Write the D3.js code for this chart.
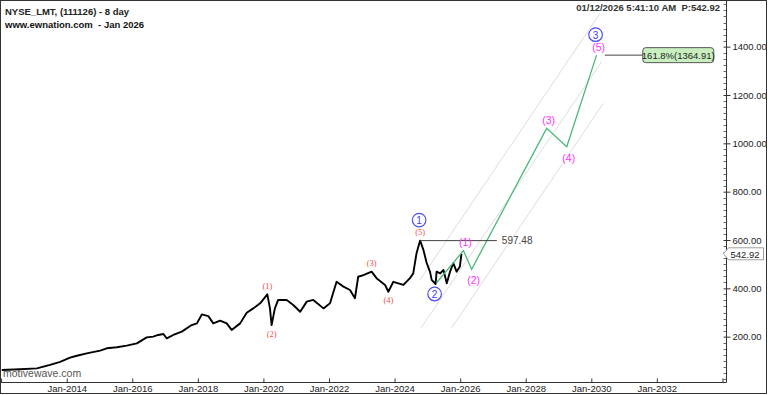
<!DOCTYPE html>
<html>
<head>
<meta charset="utf-8">
<script src="https://cdnjs.cloudflare.com/ajax/libs/d3/7.8.5/d3.min.js"></script>
<style>
  body { margin: 0; background: #fff; }
  svg { display: block; font-family: "Liberation Sans", Arial, sans-serif; }
</style>
</head>
<body>
<svg id="chart"></svg>
<script>
// price history (8 day bars), decimal year / adjusted price
const priceYears = [2012.02, 2012.58, 2013.09, 2013.29, 2013.49, 2013.80, 2014.10, 2014.31, 2014.61,
  2015.02, 2015.22, 2015.53, 2015.83, 2016.14, 2016.44, 2016.64, 2016.79, 2016.95, 2017.05, 2017.25,
  2017.51, 2017.81, 2017.97, 2018.12, 2018.32, 2018.47, 2018.68, 2018.88, 2019.03, 2019.29, 2019.49,
  2019.69, 2019.90, 2020.12, 2020.20, 2020.25, 2020.35, 2020.45, 2020.71, 2020.91, 2021.12, 2021.32,
  2021.52, 2021.83, 2022.03, 2022.23, 2022.44, 2022.64, 2022.79, 2022.89, 2023.05, 2023.30, 2023.45,
  2023.71, 2023.81, 2023.96, 2024.27, 2024.47, 2024.57, 2024.67, 2024.78, 2024.88, 2024.98, 2025.08,
  2025.13, 2025.25, 2025.28, 2025.39, 2025.49, 2025.59, 2025.69, 2025.79, 2025.89, 2025.99, 2026.04];
const priceValues = [62, 65, 69, 76, 83, 96, 113, 121, 131,
  142, 152, 156, 163, 172, 197, 200, 207, 211, 193, 207,
  221, 248, 255, 292, 285, 255, 266, 255, 228, 255, 299,
  317, 338, 375, 317, 248, 317, 352, 352, 331, 303, 345,
  352, 317, 338, 427, 407, 393, 359, 448, 455, 469, 442,
  414, 386, 427, 414, 442, 462, 545, 597.48, 559, 505, 468,
  435, 418, 469, 462, 476, 421, 469, 504, 469, 490, 542.92];

// projected wave path
const projYears = [2025.28, 2026.10, 2026.35, 2028.64, 2029.25, 2030.16];
const projValues = [423, 556, 479, 1062, 986, 1364.91];
const projLabels = ["", "(1)", "(2)", "(3)", "(4)", "(5)"];

// minor wave labels on history
const minorYears = [2020.12, 2020.25, 2023.30, 2023.81, 2024.78];
const minorValues = [375, 248, 469, 386, 597.48];
const minorLabels = ["(1)", "(2)", "(3)", "(4)", "(5)"];

// circled intermediate waves
const circleYears = [2024.78, 2025.25, 2030.16];
const circleValues = [597.48, 418, 1364.91];
const circleLabels = ["1", "2", "3"];

// channel lines [startYear, startPrice, endYear, endPrice]
const channelLines = [
  [2024.775, 434.5, 2030.265, 1538],
  [2024.797, 234.6, 2030.317, 1337.8],
  [2025.73, 234.6, 2030.365, 1165.6]
];

const level597 = 597.48, level597Years = [2024.78, 2027.12];
const fibLevel = 1364.91, fibYears = [2030.41, 2031.57], fibText = "161.8%(1364.91)";
const lastPrice = 542.92;

const xTickYears = [2012, 2014, 2016, 2018, 2020, 2022, 2024, 2026, 2028, 2030, 2032, 2034];
const xLabelYears = [2014, 2016, 2018, 2020, 2022, 2024, 2026, 2028, 2030, 2032];
const yTickValues = [200, 400, 600, 800, 1000, 1200, 1400];

const W = 768, H = 395;
const plotRight = 726.5, plotBottom = 382.5;
const toDate = y => new Date(Date.UTC(Math.floor(y), 0, 1) + (y - Math.floor(y)) * 365.25 * 864e5);

const svg = d3.select("#chart").attr("width", W).attr("height", H);
svg.append("rect").attr("width", W).attr("height", H).attr("fill", "#fff");

const x = d3.scaleUtc().domain([toDate(2012), toDate(2034.077)]).range([1.1, 725]);
const y = d3.scaleLinear().domain([0, 1400]).range([385, 46.67]);

svg.append("clipPath").attr("id", "plot").append("rect")
  .attr("x", 0).attr("y", 0).attr("width", plotRight).attr("height", plotBottom);
const plot = svg.append("g").attr("clip-path", "url(#plot)");

// watermark
plot.append("text").attr("x", 3).attr("y", 377).attr("font-size", 10.5).attr("fill", "#555")
  .text("motivewave.com");

// channel
plot.selectAll(".chan").data(channelLines).join("line")
  .attr("x1", d => x(toDate(d[0]))).attr("y1", d => y(d[1]))
  .attr("x2", d => x(toDate(d[2]))).attr("y2", d => y(d[3]))
  .attr("stroke", "#d4d4d4").attr("stroke-width", 0.8);

// price
const line = d3.line().x(d => x(toDate(d[0]))).y(d => y(d[1]));
plot.append("path").datum(priceYears.map((v, i) => [v, priceValues[i]]))
  .attr("d", line).attr("fill", "none").attr("stroke", "#000").attr("stroke-width", 1.9)
  .attr("stroke-linejoin", "round");

// projection
plot.append("path").datum(projYears.map((v, i) => [v, projValues[i]]))
  .attr("d", line).attr("fill", "none").attr("stroke", "#4cb87a").attr("stroke-width", 1.3);

// horizontal levels
plot.append("line")
  .attr("x1", x(toDate(level597Years[0]))).attr("x2", x(toDate(level597Years[1])))
  .attr("y1", y(level597)).attr("y2", y(level597)).attr("stroke", "#444").attr("stroke-width", 1);
plot.append("text").attr("x", x(toDate(level597Years[1])) + 5).attr("y", y(level597))
  .attr("dominant-baseline", "central").attr("font-size", 10).attr("fill", "#444")
  .text(d3.format(".2f")(level597));

plot.append("line")
  .attr("x1", x(toDate(fibYears[0]))).attr("x2", x(toDate(fibYears[1])))
  .attr("y1", y(fibLevel)).attr("y2", y(fibLevel)).attr("stroke", "#444").attr("stroke-width", 1);
const fx = x(toDate(fibYears[1]));
plot.append("rect").attr("x", fx).attr("y", y(fibLevel) - 7.5).attr("width", 71).attr("height", 15)
  .attr("rx", 3).attr("fill", "#c9efc0").attr("stroke", "#555").attr("stroke-width", 1);
plot.append("text").attr("x", fx + 35.5).attr("y", y(fibLevel) + 0.5).attr("text-anchor", "middle")
  .attr("dominant-baseline", "central").attr("font-size", 9.5).attr("fill", "#222").text(fibText);

// wave labels: odd waves above, even waves below
const isPeak = lbl => /[135]/.test(lbl);
plot.selectAll(".minor").data(minorLabels).join("text")
  .attr("x", (d, i) => x(toDate(minorYears[i])))
  .attr("y", (d, i) => y(minorValues[i]) + (isPeak(d) ? -8.5 : 8.5))
  .attr("text-anchor", "middle").attr("dominant-baseline", "central")
  .attr("font-family", "'Liberation Serif', 'Times New Roman', serif")
  .attr("font-size", 8.5).attr("fill", "#ee5050").text(d => d);

plot.selectAll(".proj").data(projLabels.filter(d => d)).join("text")
  .attr("x", (d, i) => x(toDate(projYears[i + 1])) + 2)
  .attr("y", (d, i) => y(projValues[i + 1]) + (isPeak(d) ? -8.5 : 11))
  .attr("text-anchor", "middle").attr("dominant-baseline", "central")
  .attr("font-size", 10.5).attr("fill", "#ff33ff").text(d => d);

const circ = plot.selectAll(".circ").data(circleLabels).join("g")
  .attr("transform", (d, i) => `translate(${x(toDate(circleYears[i])) - 1},${y(circleValues[i]) + (isPeak(d) ? -20.5 : 10)})`);
circ.append("circle").attr("r", 6.8).attr("fill", "#fff").attr("stroke", "#5050f0").attr("stroke-width", 1.2);
circ.append("text").attr("text-anchor", "middle").attr("dominant-baseline", "central").attr("y", 0.5)
  .attr("font-size", 10).attr("fill", "#4040f0").text(d => d);

// axes
const xAxis = d3.axisBottom(x)
  .tickValues(xTickYears.map(toDate))
  .tickFormat(d => { const yr = d.getUTCFullYear(); return xLabelYears.includes(yr) ? "Jan-" + yr : ""; })
  .tickSizeInner(-4).tickSizeOuter(0).tickPadding(3);
const gx = svg.append("g").attr("transform", `translate(0,${plotBottom})`).call(xAxis);
gx.select(".domain").attr("d", `M0,0H${plotRight}`).attr("stroke", "#333");
gx.selectAll(".tick line").attr("stroke", "#333");
gx.selectAll(".tick text").attr("font-size", 9.5).attr("fill", "#222").attr("font-family", "'Liberation Sans', Arial, sans-serif");

const yAxis = d3.axisRight(y).tickValues(yTickValues).tickFormat(d3.format(".2f"))
  .tickSizeInner(4).tickSizeOuter(0).tickPadding(2);
const gy = svg.append("g").attr("transform", `translate(${plotRight},0)`).call(yAxis);
gy.select(".domain").attr("d", `M0,0V${plotBottom}`).attr("stroke", "#333");
gy.selectAll(".tick line").attr("stroke", "#333").attr("x1", -3);
gy.selectAll(".tick text").attr("font-size", 9.5).attr("fill", "#222").attr("font-family", "'Liberation Sans', Arial, sans-serif");

const minorTicks = d3.range(25, 1600, 25).filter(v => v % 200 !== 0 && y(v) > 0 && y(v) < plotBottom);
gy.selectAll(".mtick").data(minorTicks).join("line")
  .attr("x1", -3).attr("x2", 0).attr("y1", d => Math.round(y(d)) + 0.5).attr("y2", d => Math.round(y(d)) + 0.5)
  .attr("stroke", "#444").attr("stroke-width", 0.8);

// last price marker
const ly = y(lastPrice);
svg.append("path")
  .attr("d", `M${plotRight - 3},${ly} L${plotRight + 2},${ly - 6} H${plotRight + 37} V${ly + 6} H${plotRight + 2} Z`)
  .attr("fill", "#fff").attr("stroke", "#888").attr("stroke-width", 0.8);
svg.append("text").attr("x", plotRight + 4).attr("y", ly + 0.5).attr("dominant-baseline", "central")
  .attr("font-size", 9.5).attr("fill", "#222").text(d3.format(".2f")(lastPrice));

// titles
svg.append("text").attr("x", 5).attr("y", 15).attr("font-size", 9.5).attr("font-weight", "bold")
  .attr("fill", "#222").text("NYSE_LMT, (111126) - 8 day");
svg.append("text").attr("x", 5).attr("y", 28).attr("font-size", 9.5).attr("font-weight", "bold")
  .attr("fill", "#111").style("white-space", "pre")
  .text("www.ewnation.com  - Jan 2026");
svg.append("text").attr("x", 720).attr("y", 11).attr("text-anchor", "end").attr("font-size", 9.5)
  .attr("font-weight", "bold").attr("fill", "#333").style("white-space", "pre")
  .text("01/12/2026 5:41:10 AM  P:542.92");

// outer frame
svg.append("rect").attr("x", 0.5).attr("y", 0.5).attr("width", 766).attr("height", 393)
  .attr("fill", "none").attr("stroke", "#333").attr("stroke-width", 1);
</script>
</body>
</html>
